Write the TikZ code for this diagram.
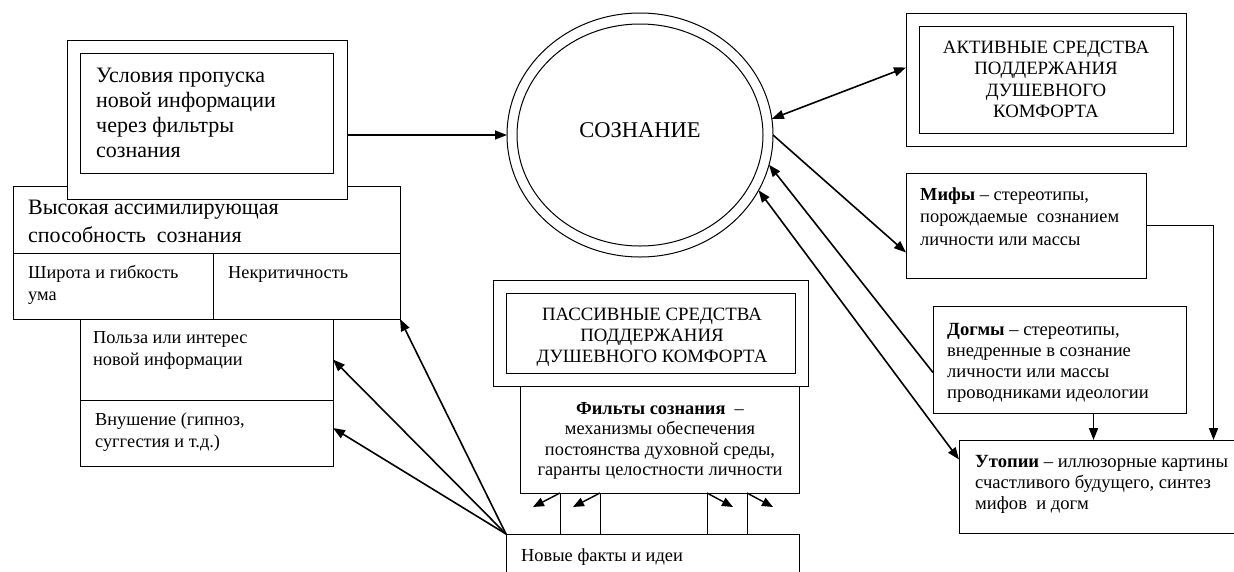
\documentclass[tikz,border=0pt]{standalone}
\usepackage{fontspec}
\setmainfont{Liberation Serif}
\usetikzlibrary{arrows.meta,shapes.geometric,calc}
\newcommand\fsz[2]{\fontsize{#1}{#2}\selectfont}
% multi-line blocks whose base is the first baseline
\newcommand\ltab[1]{\begin{tabular}[t]{@{}l@{}}#1\end{tabular}}
\newcommand\ctab[1]{\begin{tabular}[t]{@{}c@{}}#1\end{tabular}}
\begin{document}
\begin{tikzpicture}[x=1pt,y=-1pt,
  frame/.style={draw,line width=1pt,fill=white,rectangle,inner sep=0pt,outer sep=0pt,anchor=north west},
  ring/.style={draw,line width=1pt,ellipse,inner sep=0pt,outer sep=0pt},
  txt/.style={inner sep=0pt,anchor=base west},
  ctxt/.style={inner sep=0pt,anchor=base},
  link/.style={line width=1.6pt,-{Triangle[length=12pt,width=9pt]}},
  dlink/.style={line width=1.6pt,{Triangle[length=12pt,width=9pt]}-{Triangle[length=12pt,width=9pt]}},
  slink/.style={line width=1.4pt,-{Triangle[length=11pt,width=9pt]}},
  rule/.style={line width=1pt}]
\useasboundingbox (0,0) rectangle (1234,571);
\clip (0,0) rectangle (1234,571);

% left block: assimilation of new information
\node[frame,minimum width=387pt,minimum height=67pt] (vyst) at (13,186) {};
\node[frame,minimum width=200pt,minimum height=66pt] (vysl) at (13,253) {};
\node[frame,minimum width=187pt,minimum height=66pt] (vysr) at (213,253) {};
\node[frame,minimum width=280pt,minimum height=159pt] (condo) at (67,40) {};
\node[frame,minimum width=253pt,minimum height=120pt] (condi) at (80,53) {};
\node[frame,minimum width=253pt,minimum height=81pt] (polza) at (80,319) {};
\node[frame,minimum width=253pt,minimum height=66pt] (polzb) at (80,400) {};

\node[txt,font=\fsz{22}{25.3}] (tcond) at (96,82) {\ltab{Условия пропуска\\новой информации\\через фильтры\\сознания}};
\node[txt,font=\fsz{22}{28}] (tvyst) at (28,214) {\ltab{Высокая ассимилирующая\\способность\ \ сознания}};
\node[txt,font=\fsz{18.3}{22}] (tvysl) at (28,278) {\ltab{Широта и гибкость\\ума}};
\node[txt,font=\fsz{18.3}{22}] (tvysr) at (228,278) {Некритичность};
\node[txt,font=\fsz{18.3}{22}] (tpolza) at (93,343) {\ltab{Польза или интерес\\новой информации}};
\node[txt,font=\fsz{18.3}{22}] (tpolzb) at (95,425) {\ltab{Внушение (гипноз,\\суггестия и т.д.)}};

% consciousness
\node[ring,minimum width=266pt,minimum height=244pt] (circ) at (640,135) {};
\node[ring,minimum width=246pt,minimum height=222pt] (circin) at (640,135) {};
\node[ctxt,font=\fsz{22.5}{26}] (tcirc) at (640,137) {СОЗНАНИЕ};

% active means
\node[frame,minimum width=280pt,minimum height=133pt] (akto) at (906,13) {};
\node[frame,minimum width=254pt,minimum height=107pt] (akti) at (919,26) {};
\node[ctxt,font=\fsz{18.8}{21.5}] (takt) at (1046,53) {\ctab{АКТИВНЫЕ СРЕДСТВА\\ПОДДЕРЖАНИЯ\\ДУШЕВНОГО\\КОМФОРТА}};

% myths, dogmas, utopias
\node[frame,minimum width=240pt,minimum height=105pt] (mify) at (906,173) {};
\node[txt,font=\fsz{18.4}{22.5}] (tmify) at (920,200) {\ltab{\textbf{Мифы} – стереотипы,\\порождаемые\ \ сознанием\\личности или массы}};
\node[frame,minimum width=253pt,minimum height=107pt] (dogmy) at (933,306) {};
\node[txt,font=\fsz{18.6}{21}] (tdogmy) at (947,335) {\ltab{\textbf{Догмы} – стереотипы,\\внедренные в сознание\\личности или массы\\проводниками идеологии}};
\node[frame,minimum width=285pt,minimum height=93pt] (utop) at (959,440) {};
\node[txt,font=\fsz{18.6}{21}] (tutop) at (975,467) {\ltab{\textbf{Утопии} – иллюзорные картины\\счастливого будущего, синтез\\мифов\ \ и догм}};

% passive means and filters
\node[frame,minimum width=315pt,minimum height=106pt] (paso) at (493,280) {};
\node[frame,minimum width=289pt,minimum height=80pt] (pasi) at (506,293) {};
\node[ctxt,font=\fsz{18.8}{21}] (tpas) at (652,320) {\ctab{ПАССИВНЫЕ СРЕДСТВА\\ПОДДЕРЖАНИЯ\\ДУШЕВНОГО КОМФОРТА}};
\node[frame,minimum width=279pt,minimum height=107pt] (filt) at (520,386) {};
\node[ctxt,font=\fsz{18.4}{20.5}] (tfilt) at (660,414) {\ctab{\textbf{Фильты сознания}\ \ –\\механизмы обеспечения\\постоянства духовной среды,\\гаранты целостности личности}};
\node[frame,minimum width=293pt,minimum height=60pt] (nov) at (506,534) {};
\node[txt,font=\fsz{18.4}{21}] (tnov) at (521,561) {Новые факты и идеи};

% links between filters and new facts
\coordinate (f1) at ([xshift=40pt]filt.south west);
\coordinate (f2) at ([xshift=80pt]filt.south west);
\coordinate (f3) at ([xshift=-92pt]filt.south east);
\coordinate (f4) at ([xshift=-52pt]filt.south east);
\foreach \f in {f1,f2,f3,f4} \draw[rule] (\f) -- (\f |- nov.north);
\draw[slink] (f1) -- ++(-27,14);
\draw[slink] (f2) -- ++(-27,14);
\draw[slink] (f3) -- ++(26,14);
\draw[slink] (f4) -- ++(26,14);

% connectors
\draw[link] (condo.east |- circ.west) -- (circ.west);
\draw[dlink] (circ.7) -- ([yshift=12pt]akto.west);
\draw[link] (circ.0) -- ([yshift=-27pt]mify.west);
\draw[link] ([yshift=-13pt]dogmy.west) -- (circ.-13);
\draw[dlink] ([yshift=27pt]utop.west) -- (circ.-25);
\draw[link] (mify.east) -| ([xshift=112pt]utop.north);
\draw[link] ([xshift=34pt]dogmy.south) coordinate (d1) -- (d1 |- utop.north);
\draw[link] (nov.north west) -- (vysr.south east);
\draw[link] (nov.north west) -- (polza.east);
\draw[link] (nov.north west) -- ([yshift=5pt]polzb.east);
\end{tikzpicture}
\end{document}
